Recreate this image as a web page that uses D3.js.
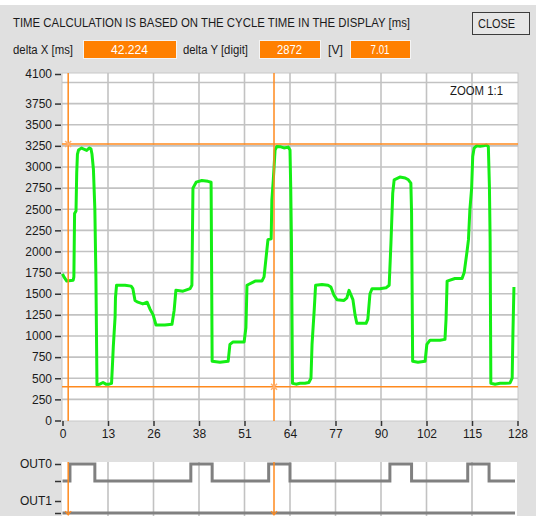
<!DOCTYPE html>
<html>
<head>
<meta charset="utf-8">
<script src="https://cdn.jsdelivr.net/npm/d3@7"></script>
<style>
  body { margin: 0; background: #e0e0e0; }
  text { font-family: "Liberation Sans", Arial, sans-serif; fill: #1a1a1a; }
</style>
</head>
<body>
<div id="chart"></div>
<script>
// Signal trace (sample index, digit value)
var sampleX = [0, 0.4, 1.2, 3.0, 3.2, 3.4, 3.8, 4.0, 4.2, 4.5, 5.4, 6.0, 6.8, 7.5, 8.0, 8.3, 8.7, 9.1, 9.4, 9.7,
  10.5, 11.4, 12.2, 13.1, 13.8, 14.1, 14.3, 14.8, 14.9, 15.2, 17.6, 19.3, 19.8, 20.4, 21.2, 22.6, 23.8, 24.6, 25.5, 26.3,
  28.8, 30.8, 31.4, 31.9, 33.9, 35.9, 36.4, 36.7, 37.6, 39.2, 40.9, 41.8, 42.1, 44.3, 46.6, 47.1, 48.0, 51.1, 51.6, 51.9,
  54.2, 56.1, 56.7, 57.8, 58.7, 58.9, 59.3, 59.8, 60.3, 61.2, 62.3, 63.5, 64.0, 64.2, 64.4, 64.7,
  65.7, 66.8, 68.2, 69.3, 69.9, 70.2, 70.8, 71.2, 73.0, 74.7, 75.5, 76.4, 77.2, 79.2, 80.0, 80.6, 81.2, 81.7, 82.3, 82.8,
  85.4, 85.9, 86.5, 87.1, 89.3, 91.0, 91.9, 92.4, 92.9, 93.3, 94.9, 96.4, 97.3, 98.0, 98.2, 98.5, 100.0, 102.0, 102.5, 103.4,
  106.2, 107.6, 107.9, 108.2, 110.4, 112.4, 113.0, 113.8, 114.2, 114.6, 115.1, 115.4, 115.8, 116.5, 117.5, 118.4, 119.3, 119.8,
  120.1, 120.3, 120.5, 121.7, 123.1, 124.5, 125.9, 126.5, 126.7, 127.0];
var sampleY = [1735, 1700, 1650, 1660, 1700, 2450, 2480, 2930, 3150, 3200, 3225, 3210, 3195, 3225, 3215, 3150, 2970, 2500, 1700, 420,
  430, 450, 430, 430, 440, 700, 880, 1230, 1450, 1600, 1600, 1590, 1560, 1420, 1400, 1380, 1400, 1320, 1250, 1130,
  1130, 1140, 1300, 1540, 1530, 1560, 1600, 2750, 2820, 2840, 2830, 2820, 700, 690, 700, 900, 930, 930, 1100, 1600,
  1650, 1650, 1700, 2140, 2150, 2611, 2848, 3200, 3243, 3240, 3225, 3235, 3200, 2769, 2140, 440,
  430, 440, 440, 450, 500, 900, 1300, 1600, 1610, 1600, 1580, 1480, 1430, 1420, 1450, 1540, 1480, 1430, 1250, 1150,
  1150, 1200, 1500, 1560, 1560, 1570, 1600, 2100, 2690, 2848, 2880, 2870, 2848, 2809, 2457, 700, 690, 700, 900, 950,
  950, 960, 1200, 1650, 1680, 1680, 1750, 2000, 2137, 2493, 2750, 3124, 3223, 3250, 3245, 3250, 3259, 3240,
  2769, 2137, 440, 430, 440, 440, 445, 500, 1000, 1580];

// Digital output OUT0: state changes (sample index, level)
var out0X = [0, 2.1, 9.1, 36.1, 42.1, 58.0, 64.0, 92.1, 98.2, 114.0, 120.0, 127.3];
var out0Level = ["lo", "hi", "lo", "hi", "lo", "hi", "lo", "hi", "lo", "hi", "lo", "lo"];
var out1X = [0, 127.3];
var out1Level = ["lo", "lo"];

var xTicks = [0, 12.8, 25.6, 38.4, 51.2, 64, 76.8, 89.6, 102.4, 115.2, 128];
var yTicks = [0, 250, 500, 750, 1000, 1250, 1500, 1750, 2000, 2250, 2500, 2750, 3000, 3250, 3500, 3750, 4100];
var yGrid = [250, 500, 750, 1000, 1250, 1500, 1750, 2000, 2250, 2500, 2750, 3000, 3250, 3500, 3750, 4000];
var digitalRows = ["OUT0", "OUT0 lo", "OUT1", "OUT1 lo"];

// Cursors
var cursorX = [1.6, 59.5];
var cursorY = [3272, 400];

var svg = d3.select("#chart").append("svg")
    .attr("width", 536)
    .attr("height", 516);

svg.append("rect").attr("width", 536).attr("height", 516).attr("fill", "#e0e0e0");
svg.append("rect").attr("width", 536).attr("height", 5).attr("fill", "#ffffff");

// Header
svg.append("text").attr("x", 13).attr("y", 27)
    .attr("font-size", 12.5)
    .attr("textLength", 397).attr("lengthAdjust", "spacingAndGlyphs")
    .text("TIME CALCULATION IS BASED ON THE CYCLE TIME IN THE DISPLAY [ms]");

// Close button
svg.append("rect").attr("x", 472.5).attr("y", 12.5).attr("width", 57).attr("height", 22)
    .attr("fill", "#e6e6e6").attr("stroke", "#3c3c3c");
svg.append("text").attr("x", 478).attr("y", 28).attr("font-size", 12.5)
    .attr("textLength", 37).attr("lengthAdjust", "spacingAndGlyphs").text("CLOSE");

var labels = [
  {t: "delta X [ms]", x: 13, w: 60},
  {t: "delta Y [digit]", x: 183, w: 65},
  {t: "[V]", x: 328, w: 15}
];
labels.forEach(function(d) {
  svg.append("text").attr("x", d.x).attr("y", 54).attr("font-size", 12.5)
      .attr("textLength", d.w).attr("lengthAdjust", "spacingAndGlyphs").text(d.t);
});

var boxes = [
  {v: "42.224", x: 83, w: 93, tw: 37},
  {v: "2872", x: 259, w: 61, tw: 25},
  {v: "7.01", x: 350, w: 60, tw: 19}
];
boxes.forEach(function(d) {
  svg.append("rect").attr("x", d.x + 0.5).attr("y", 40.5).attr("width", d.w).attr("height", 18)
      .attr("fill", "#ff8000").attr("stroke", "#f4f4f4");
  svg.append("text").attr("x", d.x + d.w / 2).attr("y", 54).attr("font-size", 12.5)
      .attr("text-anchor", "middle").style("fill", "#ffffff")
      .attr("textLength", d.tw).attr("lengthAdjust", "spacingAndGlyphs").text(d.v);
});

// Scales
var x = d3.scaleLinear().domain([0, 128]).range([62.5, 517.5]);
var y = d3.scaleLinear().domain([0, 4100]).range([420.5, 74]);
var yd = d3.scaleOrdinal().domain(digitalRows).range([464, 481, 501, 513]);

// Analog plot area
svg.append("rect").attr("x", 62).attr("y", 73).attr("width", 456).attr("height", 348)
    .attr("fill", "#ffffff").attr("stroke", "#c8c8c8");

var grid = svg.append("g").attr("stroke", "#c2c2c2").attr("stroke-width", 1.6);
grid.selectAll(".hg").data(yGrid).enter().append("line")
    .attr("x1", 62).attr("x2", 518)
    .attr("y1", function(d) { return y(d); }).attr("y2", function(d) { return y(d); });
grid.selectAll(".vg").data(xTicks.slice(1, -1)).enter().append("line")
    .attr("y1", 73).attr("y2", 421)
    .attr("x1", function(d) { return x(d); }).attr("x2", function(d) { return x(d); });

svg.append("text").attr("x", 450).attr("y", 95).attr("font-size", 12.5)
    .attr("textLength", 53).attr("lengthAdjust", "spacingAndGlyphs").text("ZOOM 1:1");

// Axes
var yAxis = svg.append("g").attr("transform", "translate(61,0)")
    .call(d3.axisLeft(y).tickValues(yTicks).tickSize(6).tickPadding(3).tickFormat(d3.format("d")));
var xAxis = svg.append("g").attr("transform", "translate(0,421)")
    .call(d3.axisBottom(x).tickValues(xTicks).tickSize(5).tickPadding(3)
      .tickFormat(function(d) { return Math.round(d); }));
[yAxis, xAxis].forEach(function(a) {
  a.select(".domain").remove();
  a.selectAll("line").attr("stroke", "#333").attr("stroke-width", 1.5);
  a.selectAll("text").attr("font-size", 12).attr("font-family", "Liberation Sans, Arial, sans-serif")
      .attr("fill", "#1a1a1a");
});

// Signal
var line = d3.line()
    .x(function(d) { return x(d[0]); })
    .y(function(d) { return y(d[1]); });
svg.append("path")
    .datum(sampleX.map(function(v, i) { return [v, sampleY[i]]; }))
    .attr("fill", "none").attr("stroke", "#14ee14").attr("stroke-width", 3)
    .attr("stroke-linejoin", "round")
    .attr("d", line);

// Cursors
var orange = "#ff8a1e";
svg.selectAll(".cx").data(cursorX).enter().append("line")
    .attr("x1", function(d) { return x(d); }).attr("x2", function(d) { return x(d); })
    .attr("y1", 73).attr("y2", 421)
    .attr("stroke", orange).attr("stroke-width", 1.5);
svg.selectAll(".cy").data(cursorY).enter().append("line")
    .attr("y1", function(d) { return y(d); }).attr("y2", function(d) { return y(d); })
    .attr("x1", 62).attr("x2", 518)
    .attr("stroke", orange).attr("stroke-width", 1.5);
svg.selectAll(".cm").data([0, 1]).enter().append("path")
    .attr("transform", function(i) { return "translate(" + x(cursorX[i]) + "," + y(cursorY[i]) + ")"; })
    .attr("d", "M-3,-3L3,3M-3,3L3,-3")
    .attr("stroke", "#ffb070").attr("stroke-width", 1.5);

// Digital panel
svg.append("rect").attr("x", 62).attr("y", 462).attr("width", 455).attr("height", 60)
    .attr("fill", "#ffffff");
svg.append("g").attr("stroke", "#c2c2c2").attr("stroke-width", 1.6)
  .selectAll("line").data(xTicks.slice(1, -1)).enter().append("line")
    .attr("y1", 462).attr("y2", 516)
    .attr("x1", function(d) { return x(d); }).attr("x2", function(d) { return x(d); });

var dAxis = svg.append("g").attr("transform", "translate(61,0)")
    .call(d3.axisLeft(yd).tickSize(6).tickPadding(3)
      .tickFormat(function(d) { return d.indexOf("lo") > 0 ? "" : d; }));
dAxis.select(".domain").remove();
dAxis.selectAll("line").attr("stroke", "#333").attr("stroke-width", 1.5);
dAxis.selectAll("text").attr("font-size", 12).attr("font-family", "Liberation Sans, Arial, sans-serif")
    .attr("fill", "#1a1a1a");

var step = d3.line().curve(d3.curveStepAfter)
    .x(function(d) { return x(d[0]); })
    .y(function(d) { return yd(d[1]); });
svg.append("path")
    .datum(out0X.map(function(v, i) { return [v, out0Level[i] === "hi" ? "OUT0" : "OUT0 lo"]; }))
    .attr("fill", "none").attr("stroke", "#808080").attr("stroke-width", 3)
    .attr("d", step);
svg.append("path")
    .datum(out1X.map(function(v, i) { return [v, out1Level[i] === "hi" ? "OUT1" : "OUT1 lo"]; }))
    .attr("fill", "none").attr("stroke", "#808080").attr("stroke-width", 3)
    .attr("d", step);

svg.selectAll(".cxd").data(cursorX).enter().append("line")
    .attr("x1", function(d) { return x(d); }).attr("x2", function(d) { return x(d); })
    .attr("y1", 462).attr("y2", 514)
    .attr("stroke", orange).attr("stroke-width", 1.5);
svg.selectAll(".ca").data(cursorX).enter().append("path")
    .attr("transform", function(d) { return "translate(" + x(d) + ",514)"; })
    .attr("d", "M-3,-3L0,1L3,-3")
    .attr("fill", "none").attr("stroke", orange).attr("stroke-width", 1.2);
</script>
</body>
</html>
